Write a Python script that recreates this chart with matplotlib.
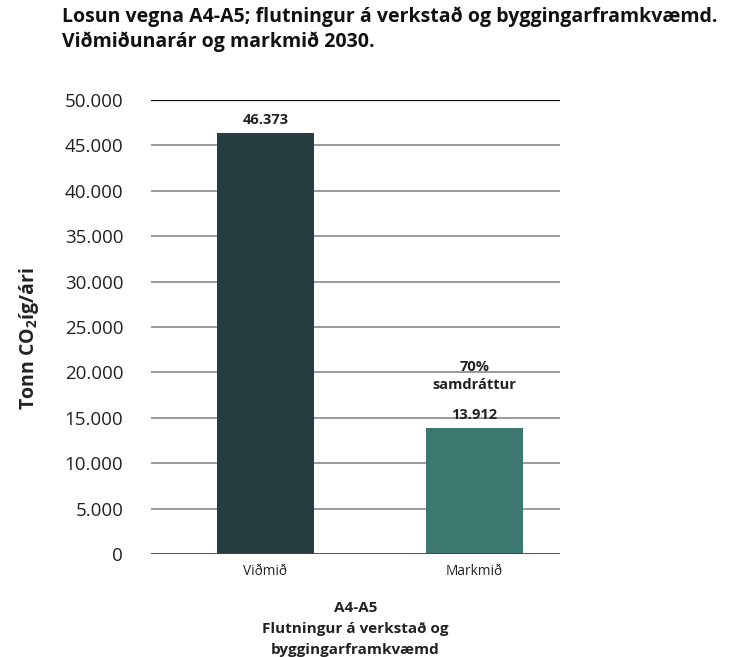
import matplotlib
matplotlib.use("Agg")
import matplotlib.pyplot as plt
import matplotlib.ticker as ticker

plt.rcParams["font.family"] = ["Open Sans", "DejaVu Sans"]
plt.rcParams["mathtext.fontset"] = "custom"
plt.rcParams["mathtext.rm"] = "Open Sans"
plt.rcParams["mathtext.bf"] = "Open Sans:bold"

# --- data ---
categories = ["Viðmið", "Markmið"]
values = [46373, 13912]
value_labels = ["46.373", "13.912"]
reduction_label = "70%\nsamdráttur"
y_ticks = list(range(0, 50001, 5000))

colors = ["#243d3f", "#3d7870"]

fig = plt.figure(figsize=(7.33, 6.57), dpi=100)
ax = fig.add_axes([151 / 733, 103 / 657, 409 / 733, 454 / 657])

x = list(range(len(categories)))
ax.bar(x, values, width=0.464, color=colors, zorder=3)

for xi, v, lab in zip(x, values, value_labels):
    ax.annotate(lab, (xi, v), xytext=(0, 4), textcoords="offset points",
                ha="center", va="bottom", fontsize=10.5, fontweight="bold",
                color="#222222")

ax.text(1, 19600, reduction_label, ha="center", va="center", fontsize=10.5,
        fontweight="bold", color="#222222", linespacing=1.3, zorder=4)

ax.set_xlim(-0.548, 1.41)
ax.set_ylim(0, 50000)
ax.set_yticks(y_ticks)
ax.yaxis.set_major_formatter(ticker.FuncFormatter(
    lambda v, _: f"{int(v):,}".replace(",", ".")))

for t in y_ticks[1:-1]:
    ax.axhline(t, color="#808080", lw=1.1, zorder=1)
ax.axhline(50000, color="#111111", lw=0.9, zorder=1)
ax.axhline(0, color="#444444", lw=1.3, zorder=4)

for s in ax.spines.values():
    s.set_visible(False)

ax.tick_params(axis="y", length=0, pad=20, labelsize=13.5, labelcolor="#222222")
ax.tick_params(axis="x", length=0, pad=7, labelsize=9.8, labelcolor="#222222")
ax.set_xticks(x)
ax.set_xticklabels(categories)

ax.set_xlabel("A4-A5\nFlutningur á verkstað og\nbyggingarframkvæmd",
              fontsize=11, fontweight="bold", color="#222222",
              linespacing=1.65, labelpad=16)
ax.set_ylabel("Tonn CO$_\\mathbf{2}$íg/ári", fontsize=14, fontweight="bold",
              color="#222222")
ax.yaxis.set_label_coords(-0.27, 0.475)

fig.text(62 / 733, 1 - 6 / 657,
         "Losun vegna A4-A5; flutningur á verkstað og byggingarframkvæmd.\n"
         "Viðmiðunarár og markmið 2030.",
         ha="left", va="top", fontsize=14, fontweight="bold",
         color="#111111", linespacing=1.3)

fig.savefig("out.png", dpi=100)
